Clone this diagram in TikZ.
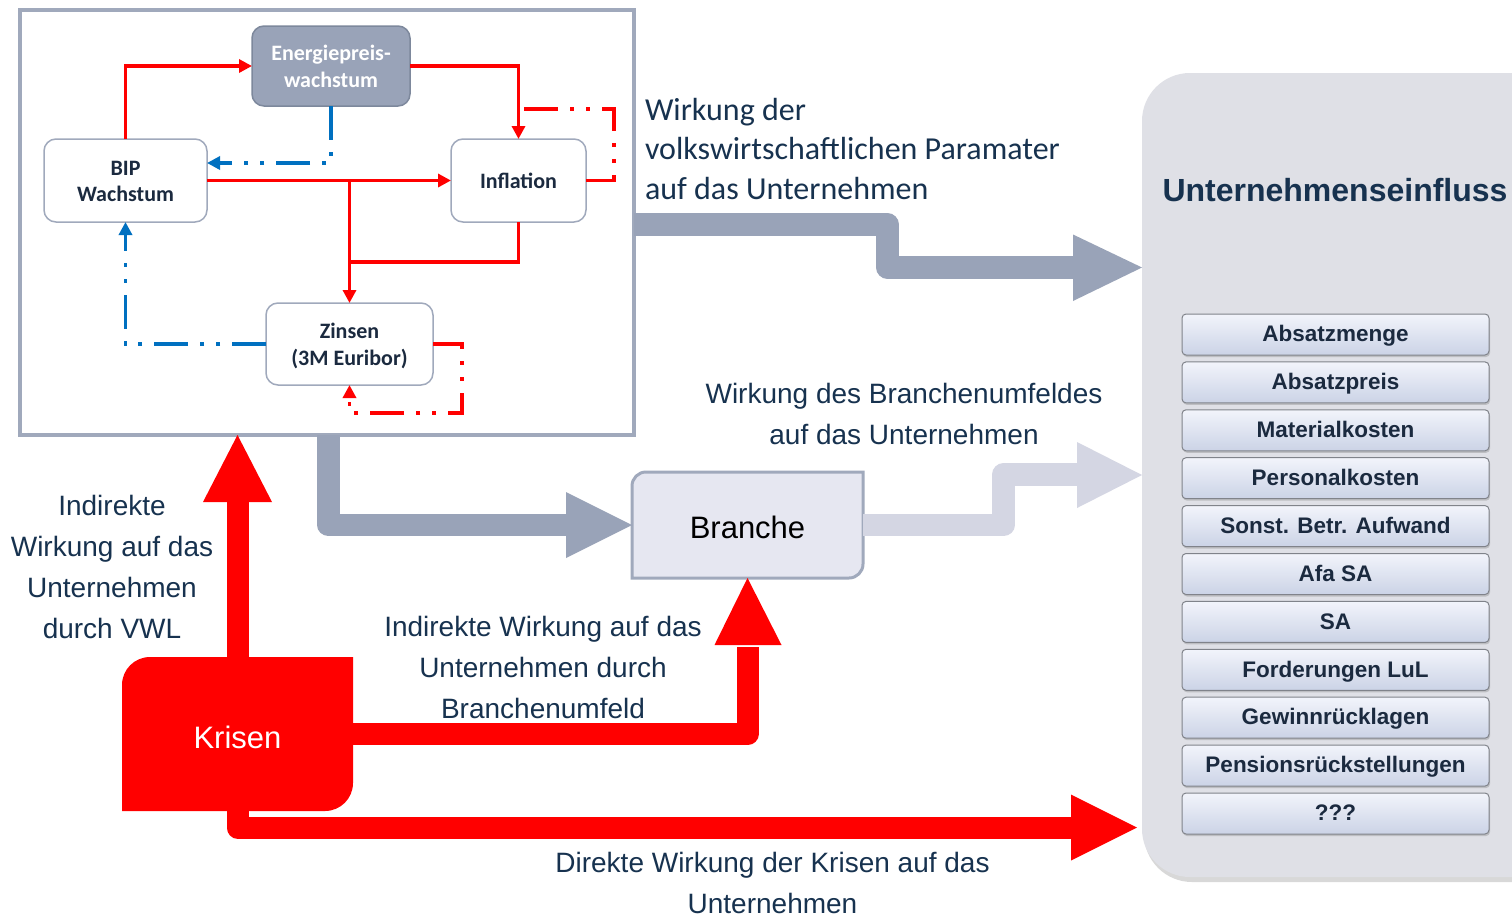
\documentclass[tikz,border=0pt]{standalone}
\usepackage{fontspec}
\setmainfont{Liberation Sans}
\newfontfamily\calibri{Carlito}
\usetikzlibrary{arrows.meta,calc,backgrounds,shadows}

\definecolor{kred}{HTML}{FF0000}
\definecolor{kblue}{HTML}{0070C0}
\definecolor{steel}{HTML}{99A3B8}
\definecolor{steeldark}{HTML}{7D889C}
\definecolor{pale}{HTML}{D4D6E3}
\definecolor{frame}{HTML}{A0A9BC}
\definecolor{navy}{HTML}{17324F}
\definecolor{ink}{HTML}{1B2A3F}
\definecolor{panelbg}{HTML}{DFE0E6}
\definecolor{brbg}{HTML}{E6E7F1}
\definecolor{itemtop}{HTML}{F2F4FB}
\definecolor{itembot}{HTML}{CBD3E6}
\definecolor{itemedge}{HTML}{80838A}

% struts that keep two-line box texts vertically centred
\newcommand\topst{\rule{0pt}{20pt}}
\newcommand\botst{\rule[-4.5pt]{0pt}{4.5pt}}

\begin{document}
\begin{tikzpicture}[x=1pt,y=1pt,
  every node/.style={inner sep=0pt, outer sep=0pt},
  mbox/.style={draw=frame, line width=1.5pt, fill=white, rounded corners=12pt,
    text=ink, align=center, font=\calibri\bfseries\fontsize{22}{26.5}\selectfont},
  flow/.style={line width=3.5pt},
  tipS/.style={-{Triangle[length=13pt,width=13pt]}},
  ddd/.style={dash pattern=on 34pt off 12pt on 4pt off 12pt on 4pt off 12pt},
  bigsteel/.style={draw=steel, line width=22.5pt, line join=round},
  bigpale/.style={draw=pale, line width=22.5pt, line join=round},
  bigred/.style={draw=kred, line width=22pt, line join=round},
  lbl/.style={text=navy, align=center, font=\fontsize{28}{41}\selectfont},
  item/.style={draw=itemedge, line width=1pt, rounded corners=4pt,
    top color=itemtop, bottom color=itembot,
    minimum width=307pt, minimum height=41pt, text=ink,
    font=\bfseries\fontsize{22.5}{26}\selectfont, text height=14.5pt, text depth=0pt,
    drop shadow={shadow xshift=1pt, shadow yshift=-2pt, opacity=.35}}
]
\useasboundingbox (0,0) rectangle (1512,-916);
\begin{pgfonlayer}{background}
  \fill[white] (0,0) rectangle (1512,-916);
\end{pgfonlayer}

% right panel with the list of company figures
\node[fill=panelbg, rounded corners=48pt, minimum width=420pt, minimum height=804pt,
  drop shadow={shadow xshift=2pt, shadow yshift=-5pt, opacity=.3}] (panel) at (1352,-475) {};
\node[font=\bfseries\fontsize{32}{38}\selectfont, text=navy, text height=20pt, text depth=0pt]
  (title) at (1335,-191) {Unternehmenseinfluss};
\foreach \t [count=\i from 0] in {Absatzmenge, Absatzpreis, Materialkosten, Personalkosten,
  Sonst. Betr. Aufwand, Afa SA, SA, Forderungen LuL, Gewinnrücklagen,
  Pensionsrückstellungen, ???}
  \node[item] (item\i) at (1335.5,{-334.5-47.9*\i}) {\t};

% macroeconomic box
\node[draw=frame, line width=3.5pt, fill=white, minimum width=614pt, minimum height=425pt]
  (vwl) at (327,-222.5) {};
\node[mbox, fill=steel, draw=steeldark, text=white, minimum width=158pt, minimum height=80pt]
  (energie) at (331,-66) {\topst Energiepreis-\\wachstum\botst};
\node[mbox, minimum width=163pt, minimum height=83pt] (bip) at (125.5,-180.5) {\topst BIP\\Wachstum\botst};
\node[mbox, minimum width=135pt, minimum height=83pt] (infl) at (518.5,-180.5) {Inflation};
\node[mbox, minimum width=167pt, minimum height=82pt] (zins) at (349.5,-344) {\topst Zinsen\\(3M Euribor)\botst};

\draw[flow, kred, tipS] (bip.north) |- (energie.west);
\draw[flow, kred, tipS] (energie.east) -| (infl.north);
\draw[flow, kred, tipS] (bip.east) -- (infl.west);
\draw[flow, kred, tipS] (bip.east -| zins.north) -- (zins.north);
\draw[flow, kred] (infl.south) |- ($(zins.north)+(0,41)$);
\draw[flow, kred, ddd] (infl.east) -- ++(28,0) |- ($(infl.north)+(0,30)$);
\draw[flow, kred, ddd, tipS] (zins.east) -- ++(29,0) |- ($(zins.south)+(0,-28)$) -- (zins.south);
\draw[flow, kblue, ddd, tipS] (energie.south) |- ([yshift=17.5pt]bip.east);
\draw[flow, kblue, ddd, tipS] (zins.west) -| (bip.south);

% Branche and Krisen
\node[text height=26.6pt, text depth=0pt, font=\fontsize{31}{36}\selectfont,
  minimum width=231pt, minimum height=106pt] (branche) at (747.5,-525) {Branche};
\node[text height=28.6pt, text depth=0pt, text=white, font=\fontsize{31}{36}\selectfont,
  minimum width=231pt, minimum height=154pt] (krisen) at (237.5,-734) {Krisen};
\begin{pgfonlayer}{background}
  \filldraw[fill=brbg, draw=frame, line width=3pt]
    (branche.south west) -- ([yshift=-14pt]branche.north west)
    arc[start angle=180, end angle=90, radius=14pt] -- (branche.north east)
    -- ([yshift=14pt]branche.south east)
    arc[start angle=0, end angle=-90, radius=14pt] -- cycle;
  \fill[kred]
    (krisen.south west) -- ([yshift=-28pt]krisen.north west)
    arc[start angle=180, end angle=90, radius=28pt] -- (krisen.north east)
    -- ([yshift=28pt]krisen.south east)
    arc[start angle=0, end angle=-90, radius=28pt] -- cycle;
\end{pgfonlayer}

% broad effect arrows
\draw[bigsteel] (vwl.east |- 0,-224.5) -- (887.5,-224.5) -- (887.5,-267.5) -- (1075,-267.5);
\fill[steel] (1073,-234.5) -- (panel.west |- 0,-267.5) -- (1073,-301) -- cycle;

\draw[bigsteel] (vwl.south -| 328.5,0) |- (568,-525);
\fill[steel] (566,-492) -- (branche.west) -- (566,-558) -- cycle;

\draw[bigpale] (branche.east) -| (1003.5,-474.5) -- (1079,-474.5);
\fill[pale] (1077,-442) -- (panel.west |- 0,-475) -- (1077,-508) -- cycle;

\draw[bigred] (krisen.north) -- (237.5,-500);
\fill[kred] (203,-502) -- (vwl.south -| krisen.north) -- (272,-502) -- cycle;

\draw[bigred] (krisen.east) -| ($(branche.south)+(0,-69)$);
\fill[kred] (714.5,-645) -- (branche.south) -- (781.5,-645) -- cycle;

\draw[bigred] ($(krisen.south)+(0,16)$) |- (1073,-827.5);
\fill[kred] (1071,-794.5) -- ($(panel.west |- 0,-827.5)+(-5,0)$) -- (1071,-860.5) -- cycle;

% labels
\node[anchor=north west, text=navy, align=left, font=\calibri\fontsize{32}{39.5}\selectfont]
  (tvwl) at (645,-92.35) {\strut Wirkung der\\volkswirtschaftlichen Paramater\\auf das Unternehmen\strut};
\node[lbl] (tbr) at (904,-415.6) {\strut Wirkung des Branchenumfeldes\\auf das Unternehmen\strut};
\node[lbl] (tind) at (112,-568.3) {\strut Indirekte\\Wirkung auf das\\Unternehmen\\durch VWL\strut};
\node[lbl] (tbu) at (543,-668.8) {\strut Indirekte Wirkung auf das\\Unternehmen durch\\Branchenumfeld\strut};
\node[lbl] (tdir) at (772.5,-879.2) {\strut Direkte Wirkung der Krisen auf das\\Unternehmen};
\end{tikzpicture}
\end{document}
